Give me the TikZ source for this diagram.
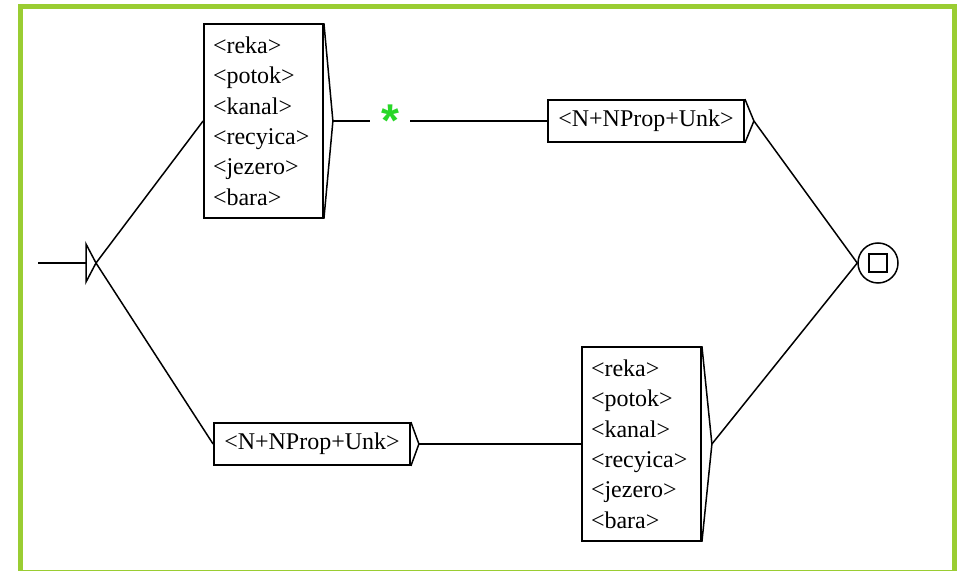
\documentclass[tikz,border=0pt]{standalone}
\usepackage{fontspec}
\setmainfont{Liberation Serif}
\newfontfamily\starfont{Liberation Sans}
\usepackage{xcolor}
\usetikzlibrary{calc}
\definecolor{framegreen}{RGB}{154,205,50}
\definecolor{stargreen}{RGB}{40,215,40}

\tikzset{
  wordbox/.style={draw, line width=0.9pt, inner xsep=4.5pt, inner ysep=0pt,
    minimum width=59.5pt, minimum height=97pt, text width=50.5pt, align=left,
    font=\fontsize{12}{15.2}\selectfont},
  tagbox/.style={draw, line width=0.9pt, inner sep=0pt, minimum width=98pt,
    minimum height=21pt, font=\fontsize{12}{14}\selectfont},
  edge/.style={line width=0.75pt},
}

\begin{document}
\begin{tikzpicture}[x=0.5pt,y=-0.5pt]
        \newcommand{\graphtopy}{121}
        \newcommand{\graphmidy}{263}
        \newcommand{\graphlowy}{444}
        \useasboundingbox (0,0) rectangle (957,571);
        \draw[framegreen, line width=2.5pt] (20.5,6.5) rectangle (954.5,572);
        \coordinate (init) at (96,\graphmidy);
        \coordinate (entry) at (38,\graphmidy);
        \draw[edge] (entry) -- (86,\graphmidy);
        \draw[edge] (86,244) -- (init) -- (86,282) -- cycle;
        \node[wordbox] (lista) at (263.5,\graphtopy) {<reka>\\<potok>\\<kanal>\\<recyica>\\<jezero>\\<bara>};
        \coordinate (listaout) at ($(lista.east)+(9,0)$);
        \draw[edge] (lista.north east) -- (listaout) -- (lista.south east);
        \node[inner sep=0pt, minimum width=20pt, minimum height=10pt, text=stargreen,
          font=\starfont\bfseries\fontsize{23}{23}\selectfont] (star) at (390,\graphtopy) {\raisebox{-2.5pt}{*}};
        \node[tagbox] (tagup) at (646,\graphtopy) {<N+NProp+Unk>};
        \coordinate (tagupout) at ($(tagup.east)+(9,0)$);
        \draw[edge] (tagup.north east) -- (tagupout) -- (tagup.south east);
        \node[tagbox] (taglow) at (312,\graphlowy) {<N+NProp+Unk>};
        \coordinate (taglowout) at ($(taglow.east)+(8,0)$);
        \draw[edge] (taglow.north east) -- (taglowout) -- (taglow.south east);
        \node[wordbox, minimum width=58.5pt] (listb) at (641.5,\graphlowy) {<reka>\\<potok>\\<kanal>\\<recyica>\\<jezero>\\<bara>};
        \coordinate (listbout) at ($(listb.east)+(10,0)$);
        \draw[edge] (listb.north east) -- (listbout) -- (listb.south east);
        \node[draw, circle, line width=0.75pt, minimum size=20pt, inner sep=0pt] (final) at (878,\graphmidy) {};
        \node[draw, line width=0.75pt, minimum size=9pt, inner sep=0pt] (finalmark) at (final.center) {};
        \draw[edge] (init) -- (lista.west);
        \draw[edge] (init) -- (taglow.west);
        \draw[edge] (listaout) -- (star.west);
        \draw[edge] (star.east) -- (tagup.west);
        \draw[edge] (tagupout) -- (final.west);
        \draw[edge] (taglowout) -- (listb.west);
        \draw[edge] (listbout) -- (final.west);
\end{tikzpicture}
\end{document}
